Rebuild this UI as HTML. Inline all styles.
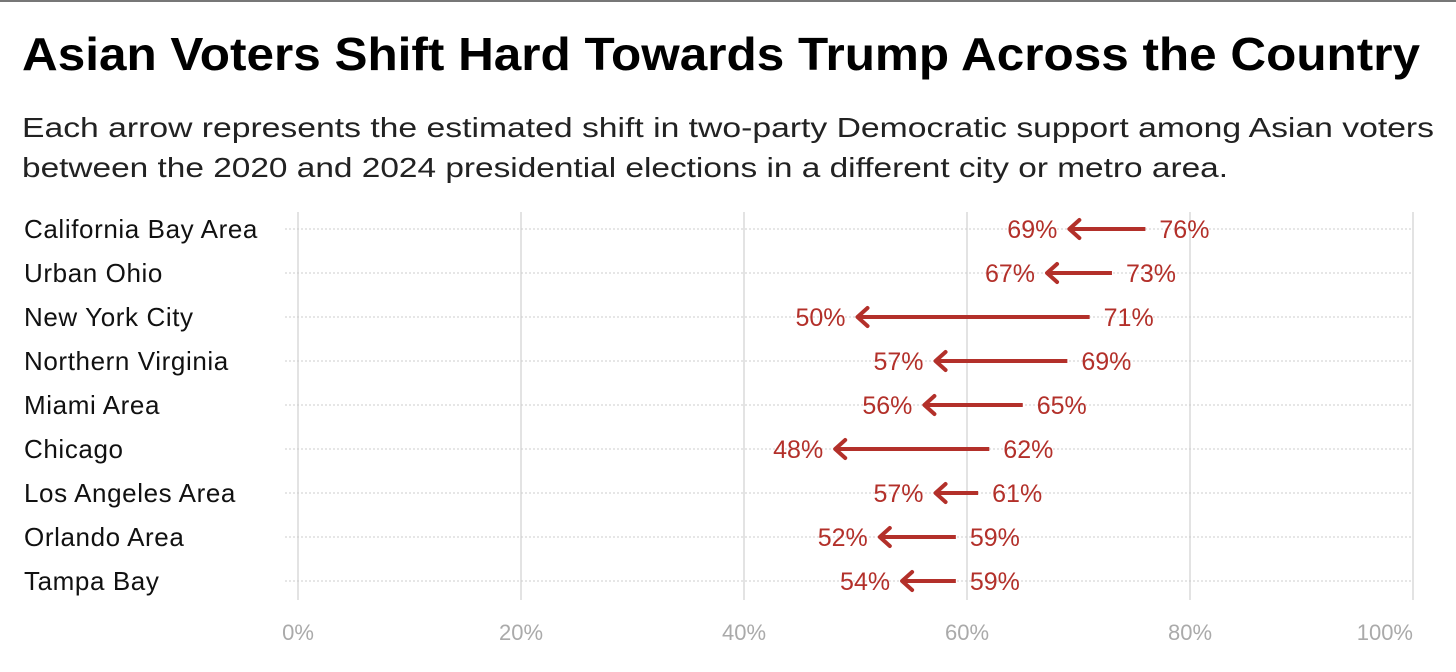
<!DOCTYPE html>
<html><head><meta charset="utf-8"><style>
html,body{margin:0;padding:0;background:#fff;}
svg{display:block;font-family:"Liberation Sans",sans-serif;}
</style></head><body>
<svg id="chart" width="1456" height="672">
<rect x="0" y="0" width="1456" height="2" fill="#777"/>
<text x="22" y="70" font-size="46" font-weight="bold" fill="#000" textLength="1398" lengthAdjust="spacingAndGlyphs">Asian Voters Shift Hard Towards Trump Across the Country</text>
<g font-size="28" fill="#222">
<text x="22" y="137" textLength="1412" lengthAdjust="spacingAndGlyphs">Each arrow represents the estimated shift in two-party Democratic support among Asian voters</text>
<text x="22" y="177" textLength="1206" lengthAdjust="spacingAndGlyphs">between the 2020 and 2024 presidential elections in a different city or metro area.</text>
</g>
<g id="grid"></g><g id="rows"></g><g id="marks"></g><g id="xaxis"></g>
</svg>
<script>
const categories=["California Bay Area","Urban Ohio","New York City","Northern Virginia","Miami Area","Chicago","Los Angeles Area","Orlando Area","Tampa Bay"];
const values2020=[76,73,71,69,65,62,61,59,59];
const values2024=[69,67,50,57,56,48,57,52,54];
const ticks=[0,20,40,60,80,100];
const NS="http://www.w3.org/2000/svg";
const x0=298,x1=1413,y0=229,rowStep=44;
const xs=v=>x0+(x1-x0)*v/100;
const ys=i=>y0+i*rowStep;
function mk(tag,attrs,parent){const e=document.createElementNS(NS,tag);for(const k in attrs)e.setAttribute(k,attrs[k]);parent.appendChild(e);return e;}
const grid=document.getElementById('grid'),rows=document.getElementById('rows'),marks=document.getElementById('marks'),xaxis=document.getElementById('xaxis');
ticks.forEach((t,k)=>{
  const l=mk('line',{x1:xs(t),x2:xs(t),y1:212,y2:600,stroke:'#e3e3e3','stroke-width':2},grid);
  
  
  const last=k===ticks.length-1;
  const tx=mk('text',{x:last?xs(t):xs(t),y:640,'text-anchor':last?'end':'middle','font-size':22,fill:'#aaa'},xaxis);
  tx.textContent=t+'%';
  
  
});
categories.forEach((c,i)=>{
  const y=ys(i);
  const dl=mk('line',{x1:285,x2:x1,y1:y,y2:y,stroke:'#ccc','stroke-width':1,'stroke-dasharray':'2,2'},rows);
  
  
  const lb=mk('text',{x:24,y:y+9,'font-size':26,fill:'#111','letter-spacing':'0.6'},rows);
  lb.textContent=c;
  
  
  const a=xs(values2020[i]),b=xs(values2024[i]);
  const g=mk('g',{},marks);
  
  
  mk('line',{x1:a,x2:b+3,y1:y,y2:y,stroke:'#b3302a','stroke-width':4},g);
  mk('polyline',{points:`${b+12},${y-9} ${b+2},${y} ${b+12},${y+9}`,fill:'none',stroke:'#b3302a','stroke-width':4,'stroke-linecap':'round','stroke-linejoin':'round'},g);
  const t1=mk('text',{x:a+14,y:y+9,'font-size':25,fill:'#b3302a'},g);
  t1.textContent=values2020[i]+'%';
  const t2=mk('text',{x:b-10,y:y+9,'font-size':25,fill:'#b3302a','text-anchor':'end'},g);
  t2.textContent=values2024[i]+'%';
});
</script>
</body></html>
